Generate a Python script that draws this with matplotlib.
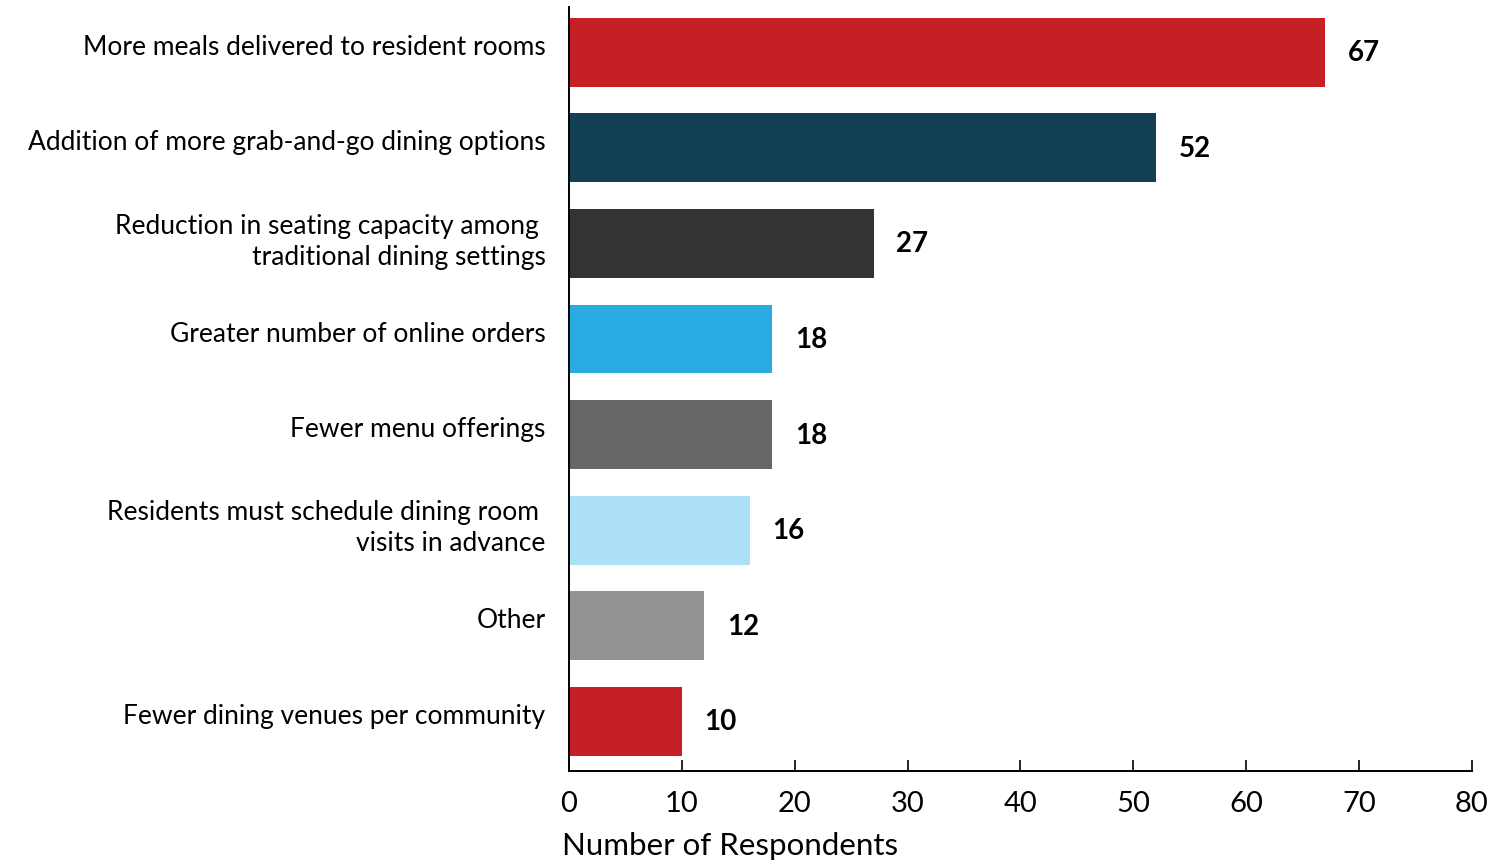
import matplotlib
matplotlib.use("Agg")
import matplotlib.pyplot as plt
from matplotlib.transforms import ScaledTranslation

plt.rcParams['font.family'] = ['Lato', 'DejaVu Sans']

categories = [
    "More meals delivered to resident rooms",
    "Addition of more grab-and-go dining options",
    "Reduction in seating capacity among \ntraditional dining settings",
    "Greater number of online orders",
    "Fewer menu offerings",
    "Residents must schedule dining room \nvisits in advance",
    "Other",
    "Fewer dining venues per community",
]
respondents = [67, 52, 27, 18, 18, 16, 12, 10]
bar_colors = ["#C52026", "#133F55", "#333333", "#29ABE2",
              "#666666", "#ADE0F7", "#939393", "#C52026"]
x_ticks = [0, 10, 20, 30, 40, 50, 60, 70, 80]

fig = plt.figure(figsize=(14.95, 8.62), dpi=100)
ax = fig.add_axes([0.3806, 0.1044, 0.604, 0.886])

pos = list(range(len(categories)))
ax.barh(pos, respondents, height=0.72, color=bar_colors)

for y, v in zip(pos, respondents):
    ax.text(v + 2.0, y, str(v), va='center', ha='left',
            fontsize=20, fontweight='bold', color='black')

ax.set_ylim(7.52, -0.47)
ax.set_xlim(0, 80)
ax.set_xticks(x_ticks)
ax.set_xticklabels([str(t) for t in x_ticks], fontsize=21)
ax.set_yticks(pos)
ax.set_yticklabels(categories, fontsize=19, linespacing=1.3)
ax.tick_params(axis='y', length=0, pad=17)
ax.tick_params(axis='x', direction='in', length=8, width=1.2, pad=14)

# category labels sit a little above the bar centres
lift = ScaledTranslation(0, 6 / 72, fig.dpi_scale_trans)
for lbl in ax.get_yticklabels():
    lbl.set_transform(lbl.get_transform() + lift)

for side in ['top', 'right']:
    ax.spines[side].set_visible(False)
for side in ['left', 'bottom']:
    ax.spines[side].set_linewidth(1.4)
    ax.spines[side].set_color('black')

ax.set_xlabel("Number of Respondents", fontsize=22.5, loc='left')
ax.xaxis.set_label_coords(-0.008, -0.078)

fig.savefig("out.png", dpi=100)
